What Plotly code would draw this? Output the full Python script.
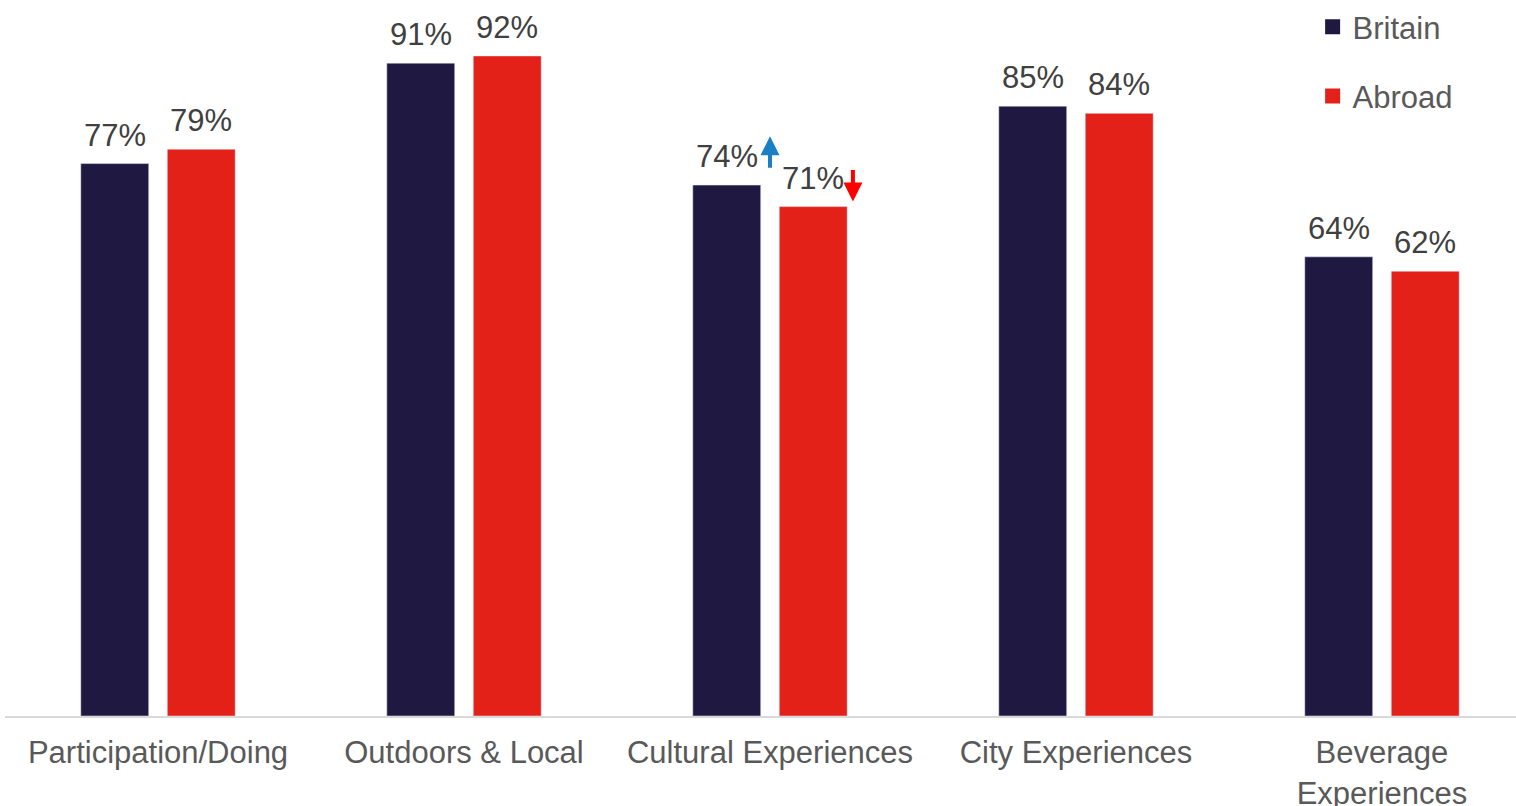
import plotly.graph_objects as go

# categories and series (% share)
categories = ["Participation/Doing", "Outdoors & Local", "Cultural Experiences",
              "City Experiences", "Beverage<br>Experiences"]
britain = [77, 91, 74, 85, 64]
abroad = [79, 92, 71, 84, 62]

NAVY = "#1F1841"
RED = "#E32119"
FONT = "Liberation Sans, Arial, sans-serif"

bar_w = 0.222
fig = go.Figure()
fig.add_trace(go.Bar(x=categories, y=britain, name="Britain", marker_color=NAVY,
                     width=bar_w, offset=-0.1413 - bar_w / 2, showlegend=False))
fig.add_trace(go.Bar(x=categories, y=abroad, name="Abroad", marker_color=RED,
                     width=bar_w, offset=0.1413 - bar_w / 2, showlegend=False))
# legend entries with larger square swatches
for name, col in [("Britain", NAVY), ("Abroad", RED)]:
    fig.add_trace(go.Scatter(x=[None], y=[None], mode="markers", name=name, legendgroup=name,
                             marker=dict(symbol="square", size=15, color=col)))

# value labels above the bars
annots = []
for vals, shift in [(britain, -43), (abroad, 43)]:
    for c, v in zip(categories, vals):
        annots.append(dict(x=c, y=v, xref="x", yref="y", text=f"{v}%",
                           showarrow=False, xshift=shift, yshift=9,
                           yanchor="bottom", font=dict(size=31, color="#404040", family=FONT)))

# significance arrows on Cultural Experiences
ci = 2
annots.append(dict(x=ci, y=britain[ci] + 6.8, ax=ci, ay=britain[ci] + 2.2,
                   xref="x", yref="y", axref="x", ayref="y", text="", showarrow=True,
                   arrowhead=2, arrowsize=0.95, arrowwidth=4, arrowcolor="#1B7FC4", standoff=0))
annots.append(dict(x=ci + 0.271, y=abroad[ci] + 0.7, ax=ci + 0.271, ay=abroad[ci] + 5.3,
                   xref="x", yref="y", axref="x", ayref="y", text="", showarrow=True,
                   arrowhead=2, arrowsize=0.95, arrowwidth=4, arrowcolor="#FF0000", standoff=0))

fig.update_layout(
    width=1516, height=806,
    margin=dict(l=5, r=0, t=0, b=90),
    plot_bgcolor="white", paper_bgcolor="white",
    barmode="overlay",
    font=dict(family=FONT, size=31, color="#595959"),
    annotations=annots,
    legend=dict(x=0.8654, y=1.0, xanchor="left", yanchor="top",
                font=dict(size=31, color="#595959"), tracegroupgap=26,
                itemwidth=30, itemsizing="trace", bgcolor="rgba(0,0,0,0)"),
    xaxis=dict(range=[-0.5, 4.438], showline=True, linecolor="#D9D9D9", linewidth=2,
               automargin=False, ticks="", ticklabelstandoff=8,
               tickfont=dict(size=31, color="#595959")),
    yaxis=dict(range=[0, 99.8], visible=False, automargin=False),
)

fig.write_html("out.html", config={"displayModeBar": False},
               post_script="document.body.style.margin='0';")
